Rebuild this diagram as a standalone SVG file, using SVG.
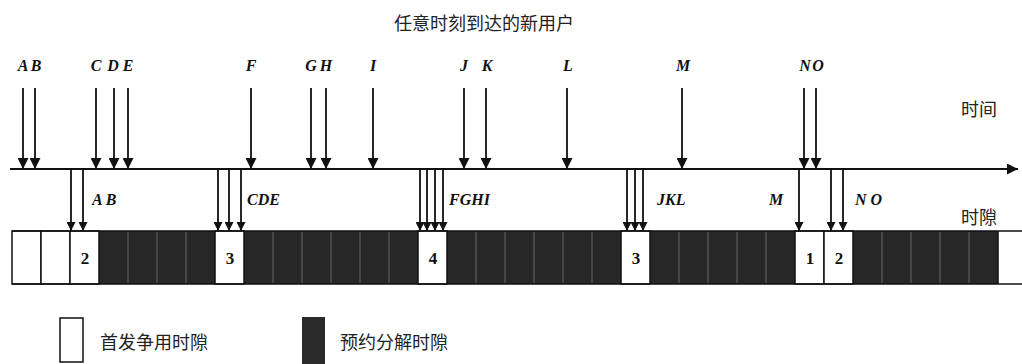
<svg xmlns="http://www.w3.org/2000/svg" width="1022" height="364" viewBox="0 0 1022 364">
<style>
.lt{font-family:"Liberation Serif","DejaVu Serif",serif;font-style:italic;font-weight:bold;font-size:16px;fill:#111}
.cj{font-family:"Noto Sans CJK SC","Noto Sans",sans-serif;font-size:18px;fill:#222}
.num{font-family:"Liberation Serif",serif;font-weight:bold;font-size:17px;fill:#111;text-anchor:middle}
.ar{stroke:#111;stroke-width:1.8;fill:none}
.ws{fill:#fff;stroke:#111;stroke-width:1.5}
.ds{fill:#272727}
.sep{stroke:#666;stroke-width:1}
</style>
<defs>
<marker id="ah" viewBox="0 0 10 10" refX="10" refY="5" markerWidth="11" markerHeight="11" markerUnits="userSpaceOnUse" orient="auto"><path d="M0,0 L10,5 L0,10 z" fill="#111"/></marker>
<marker id="ahs" viewBox="0 0 10 10" refX="10" refY="5" markerWidth="10" markerHeight="9" markerUnits="userSpaceOnUse" orient="auto"><path d="M0,0 L10,5 L0,10 z" fill="#111"/></marker>
<marker id="axh" viewBox="0 0 10 10" refX="10" refY="5" markerWidth="14" markerHeight="11" markerUnits="userSpaceOnUse" orient="auto"><path d="M0,0 L10,5 L0,10 z" fill="#111"/></marker>
</defs>
<rect width="1022" height="364" fill="#fff"/>
<g id="title"><text class="cj" x="484" y="30" text-anchor="middle">任意时刻到达的新用户</text></g>
<g id="axis-labels">
<text class="cj" x="979" y="116" text-anchor="middle">时间</text>
<text class="cj" x="979" y="224" text-anchor="middle">时隙</text>
</g>
<g id="arrival-labels" class="lt" text-anchor="middle">
<text x="23" y="71">A</text><text x="36" y="71">B</text>
<text x="96" y="71">C</text><text x="113" y="71">D</text><text x="128" y="71">E</text>
<text x="251" y="71">F</text>
<text x="311" y="71">G</text><text x="326" y="71">H</text>
<text x="373" y="71">I</text>
<text x="464" y="71">J</text><text x="487" y="71">K</text>
<text x="568" y="71">L</text>
<text x="683" y="71">M</text>
<text x="805" y="71">N</text><text x="818" y="71">O</text>
</g>
<g id="slot-labels" class="lt">
<text x="92" y="205">A B</text>
<text x="247" y="205">CDE</text>
<text x="449" y="205">FGHI</text>
<text x="657" y="205">JKL</text>
<text x="769" y="205">M</text>
<text x="855" y="205">N O</text>
</g>
<g id="slots">
<rect class="ds" x="99" y="231" width="116" height="53"/>
<rect class="ds" x="244" y="231" width="174" height="53"/>
<rect class="ds" x="447" y="231" width="174" height="53"/>
<rect class="ds" x="650" y="231" width="145" height="53"/>
<rect class="ds" x="853" y="231" width="145" height="53"/>
<g class="sep">
<line x1="128" y1="232" x2="128" y2="283"/><line x1="157" y1="232" x2="157" y2="283"/><line x1="186" y1="232" x2="186" y2="283"/>
<line x1="273" y1="232" x2="273" y2="283"/><line x1="302" y1="232" x2="302" y2="283"/><line x1="331" y1="232" x2="331" y2="283"/><line x1="360" y1="232" x2="360" y2="283"/><line x1="389" y1="232" x2="389" y2="283"/>
<line x1="476" y1="232" x2="476" y2="283"/><line x1="505" y1="232" x2="505" y2="283"/><line x1="534" y1="232" x2="534" y2="283"/><line x1="563" y1="232" x2="563" y2="283"/><line x1="592" y1="232" x2="592" y2="283"/>
<line x1="679" y1="232" x2="679" y2="283"/><line x1="708" y1="232" x2="708" y2="283"/><line x1="737" y1="232" x2="737" y2="283"/><line x1="766" y1="232" x2="766" y2="283"/>
<line x1="882" y1="232" x2="882" y2="283"/><line x1="911" y1="232" x2="911" y2="283"/><line x1="940" y1="232" x2="940" y2="283"/><line x1="969" y1="232" x2="969" y2="283"/>
</g>
<rect class="ws" x="12" y="231" width="29" height="53"/>
<rect class="ws" x="41" y="231" width="29" height="53"/>
<rect class="ws" x="70" y="231" width="29" height="53"/>
<rect class="ws" x="215" y="231" width="29" height="53"/>
<rect class="ws" x="418" y="231" width="29" height="53"/>
<rect class="ws" x="621" y="231" width="29" height="53"/>
<rect class="ws" x="795" y="231" width="29" height="53"/>
<rect class="ws" x="824" y="231" width="29" height="53"/>
<line x1="12" y1="231" x2="1022" y2="231" stroke="#111" stroke-width="1.5"/>
<line x1="12" y1="284" x2="1022" y2="284" stroke="#111" stroke-width="1.5"/>
<line x1="998" y1="231" x2="998" y2="284" stroke="#111" stroke-width="1.5"/>
<text class="num" x="85" y="264">2</text>
<text class="num" x="230" y="264">3</text>
<text class="num" x="433" y="264">4</text>
<text class="num" x="636" y="264">3</text>
<text class="num" x="810" y="264">1</text>
<text class="num" x="839" y="264">2</text>
</g>
<g id="connectors">
<line x1="10" y1="169" x2="1018" y2="169" stroke="#111" stroke-width="2" marker-end="url(#axh)"/>
<g class="ar" marker-end="url(#ah)">
<line x1="23" y1="88" x2="23" y2="169"/><line x1="35" y1="88" x2="35" y2="169"/>
<line x1="96" y1="88" x2="96" y2="169"/><line x1="114" y1="88" x2="114" y2="169"/><line x1="128" y1="88" x2="128" y2="169"/>
<line x1="251" y1="88" x2="251" y2="169"/>
<line x1="311" y1="88" x2="311" y2="169"/><line x1="326" y1="88" x2="326" y2="169"/>
<line x1="373" y1="88" x2="373" y2="169"/>
<line x1="464" y1="88" x2="464" y2="169"/><line x1="486" y1="88" x2="486" y2="169"/>
<line x1="567" y1="88" x2="567" y2="169"/>
<line x1="682" y1="88" x2="682" y2="169"/>
<line x1="804" y1="88" x2="804" y2="169"/><line x1="816" y1="88" x2="816" y2="169"/>
</g>
<g class="ar" marker-end="url(#ahs)">
<line x1="71" y1="170" x2="71" y2="231"/><line x1="83" y1="170" x2="83" y2="231"/>
<line x1="218" y1="170" x2="218" y2="231"/><line x1="229" y1="170" x2="229" y2="231"/><line x1="241" y1="170" x2="241" y2="231"/>
<line x1="420" y1="170" x2="420" y2="231"/><line x1="427" y1="170" x2="427" y2="231"/><line x1="435" y1="170" x2="435" y2="231"/><line x1="443" y1="170" x2="443" y2="231"/>
<line x1="627" y1="170" x2="627" y2="231"/><line x1="635" y1="170" x2="635" y2="231"/><line x1="643" y1="170" x2="643" y2="231"/>
<line x1="799" y1="170" x2="799" y2="231"/>
<line x1="831" y1="170" x2="831" y2="231"/><line x1="843" y1="170" x2="843" y2="231"/>
</g>
</g>
<g id="legend">
<rect x="60" y="318" width="23" height="44" fill="#fff" stroke="#111" stroke-width="1.5"/>
<text class="cj" x="100" y="349">首发争用时隙</text>
<rect x="302" y="317" width="23" height="47" fill="#2a2a2a"/>
<text class="cj" x="340" y="349">预约分解时隙</text>
</g>
</svg>
